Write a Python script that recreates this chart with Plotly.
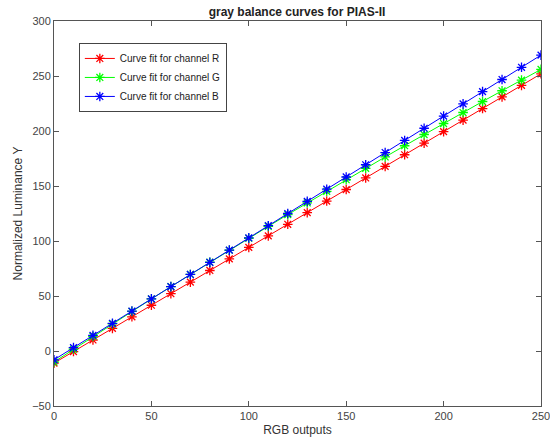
import plotly.graph_objects as go

x_vals = [0, 10, 20, 30, 40, 50, 60, 70, 80, 90, 100, 110, 120, 130, 140, 150,
          160, 170, 180, 190, 200, 210, 220, 230, 240, 250]
r_vals = [-11, -0.5, 10, 20.6, 31.1, 41.6, 52.1, 62.6, 73.2, 83.7, 94.2, 104.7, 115.2,
          125.8, 136.3, 146.8, 157.3, 167.8, 178.4, 188.9, 199.4, 209.9, 220.4, 231, 241.5, 252]
g_vals = [-10, 1.6, 13.2, 24.6, 36.0, 47.3, 58.5, 69.6, 80.7, 91.6, 102.5, 113.3, 124.0,
          134.6, 145.2, 155.7, 166.1, 176.4, 186.6, 196.8, 206.8, 216.8, 226.8, 236.6, 246.3, 256]
b_vals = [-8, 3.1, 14.2, 25.2, 36.3, 47.4, 58.5, 69.6, 80.6, 91.7, 102.8, 113.9, 125,
          136, 147.1, 158.2, 169.3, 180.4, 191.4, 202.5, 213.6, 224.7, 235.8, 246.8, 257.9, 269]
names = ["Curve fit for channel R", "Curve fit for channel G", "Curve fit for channel B"]
colors = ["#ff0000", "#00ff00", "#0000ff"]

fig = go.Figure()
for ys, nm, c in zip([r_vals, g_vals, b_vals], names, colors):
    fig.add_trace(go.Scatter(
        x=x_vals, y=ys, name=nm, mode="lines+markers",
        line=dict(color=c, width=1),
        marker=dict(symbol="asterisk-open", size=8, color=c, line=dict(color=c, width=1.3)),
    ))

axis_common = dict(
    showgrid=False, zeroline=False, showline=True, linecolor="#555555", linewidth=1,
    mirror="allticks", ticks="inside", ticklen=5, tickcolor="#555555", automargin=False,
    ticklabeloverflow="allow",
    tickfont=dict(family="Liberation Sans, Arial, sans-serif", size=11, color="#444444"),
)

fig.update_layout(
    width=550, height=438,
    margin=dict(l=54, r=9, t=21, b=32),
    paper_bgcolor="white", plot_bgcolor="white",
    title=dict(text="<b>gray balance curves for PIAS-II</b>", x=0.54, xanchor="center",
               y=0.972, yanchor="middle",
               font=dict(family="Liberation Sans, Arial, sans-serif", size=12, color="#222222")),
    xaxis=dict(range=[0, 250], tickvals=[0, 50, 100, 150, 200, 250],
               title=dict(text="RGB outputs", standoff=4,
                          font=dict(family="Liberation Sans, Arial, sans-serif", size=12, color="#333333")),
               **axis_common),
    yaxis=dict(range=[-50, 300], tickvals=[-50, 0, 50, 100, 150, 200, 250, 300],
               title=dict(text="Normalized Luminance Y", standoff=6,
                          font=dict(family="Liberation Sans, Arial, sans-serif", size=12, color="#333333")),
               **axis_common),
    legend=dict(x=0.051, y=0.943, xanchor="left", yanchor="top",
                bgcolor="white", bordercolor="#444444", borderwidth=1,
                font=dict(family="Liberation Sans, Arial, sans-serif", size=10, color="#222222"),
                itemwidth=30, tracegroupgap=0),
    showlegend=True,
)

fig.write_html("out.html")
